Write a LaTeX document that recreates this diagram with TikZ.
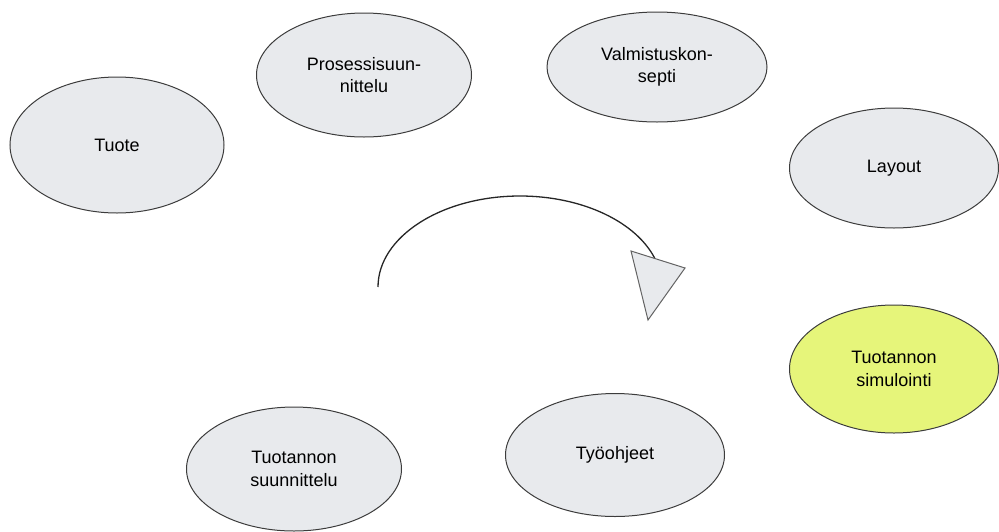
\documentclass[tikz,border=0pt]{standalone}
\usepackage{fontspec}
\setmainfont{Liberation Sans}
\usetikzlibrary{shapes.geometric}
\definecolor{ellfill}{HTML}{E8EAED}
\definecolor{simfill}{HTML}{E6F57A}
\definecolor{edgecol}{HTML}{3C3C3C}
\begin{document}
\begin{tikzpicture}[x=1pt,y=-1pt,
  bub/.style={ellipse, draw=edgecol, line width=1pt, fill=ellfill, inner sep=0pt,
    align=center, font=\fontsize{18}{22.5}\selectfont},
  arcline/.style={draw=black!85, line width=1.3pt},
  tiphead/.style={draw=edgecol!80, line width=1pt, fill=ellfill, line join=miter}]
\useasboundingbox (0,0) rectangle (999,531);
\node[bub, minimum width=214, minimum height=136] (tuote) at (117,145) {Tuote};
\node[bub, minimum width=215, minimum height=124] (prosessi) at (364,75) {Prosessisuun-\\nittelu};
\node[bub, minimum width=220, minimum height=110] (valmistus) at (657,67) {Valmistuskon-\\septi};
\node[bub, minimum width=209, minimum height=120] (layout) at (894,168) {Layout};
\node[bub, fill=simfill, minimum width=209, minimum height=128] (simulointi) at (894,369) {Tuotannon\\simulointi};
\node[bub, minimum width=219, minimum height=123] (tyoohjeet) at (615,455) {Työohjeet};
\node[bub, minimum width=215, minimum height=124] (suunnittelu) at (294,469) {Tuotannon\\suunnittelu};
\coordinate (arcstart) at (378,287);
\coordinate (tipa) at (631,251);
\coordinate (tipb) at (685,268);
\coordinate (tipc) at (648,320);
\draw[arcline] (arcstart) arc[start angle=180, end angle=17, x radius=142pt, y radius=91pt];
\draw[tiphead] (tipa) -- (tipb) -- (tipc) -- cycle;
\end{tikzpicture}
\end{document}
